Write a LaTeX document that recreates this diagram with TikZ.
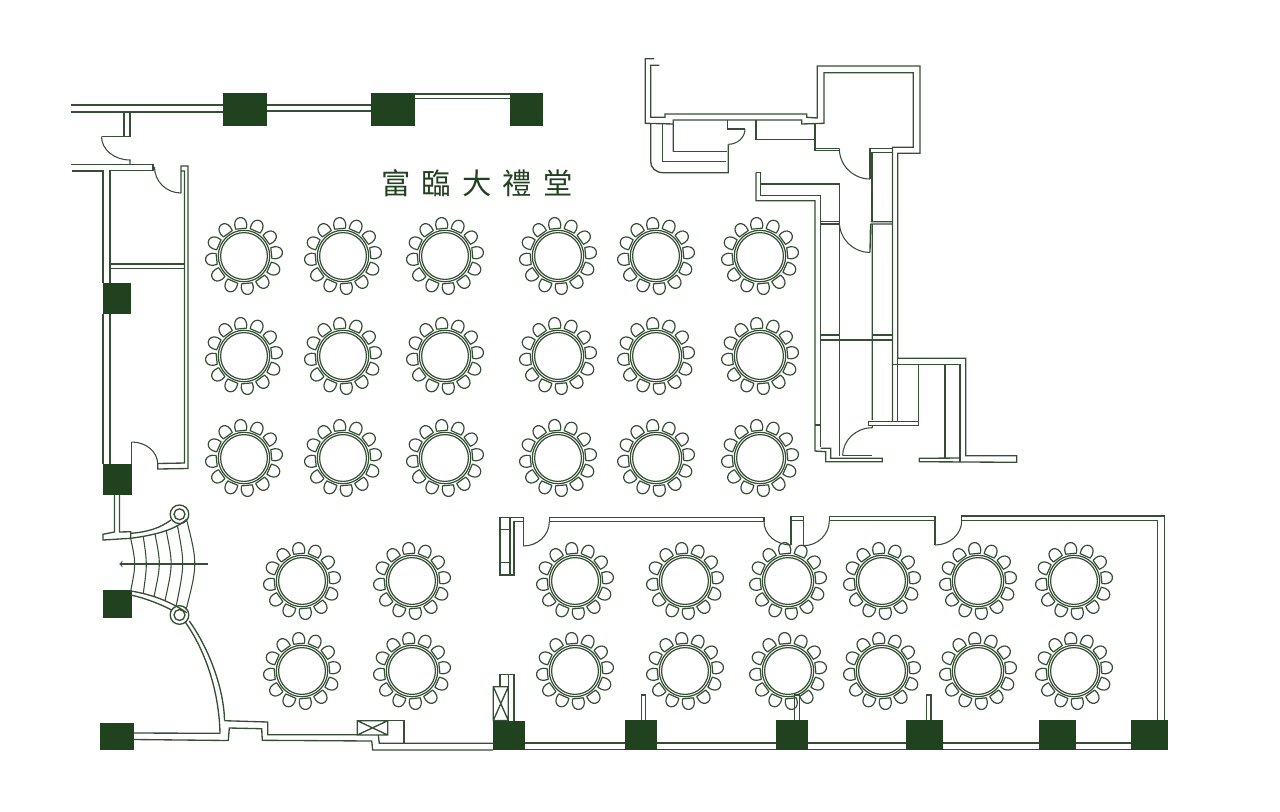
\documentclass[tikz,border=0pt]{standalone}
\usepackage{fontspec}
\newfontfamily\cjk[LetterSpace=38]{Noto Sans CJK TC}
\definecolor{plangreen}{HTML}{21421F}
\definecolor{wallgreen}{HTML}{344F34}
\tikzset{
	wall/.style={wallgreen, line width=1pt, line join=miter},
	thinwall/.style={wallgreen, line width=0.8pt},
	pillar/.style={fill=plangreen, draw=none},
	seat/.style={wallgreen, line width=0.9pt, line join=round},
	hallname/.style={text=plangreen, font=\cjk\fontsize{22}{24}\selectfont, inner sep=0},
	pics/roundtable/.style={code={
		\draw[seat] (0,0) circle[radius=25.7];
		\draw[seat] (0,0) circle[radius=23.4];
		\foreach \a in {6,36,...,336}{
			\draw[seat, rotate=\a] (27.5,-5.5) -- (27.5,5.5) -- (31.5,6) .. controls (41,6) and (41,-6) .. (31.5,-6) -- cycle;
		}
	}},
}
\begin{document}
\begin{tikzpicture}[x=0.75pt, y=-0.75pt]
	\useasboundingbox (0,0) rectangle (1280,811);

	\foreach \y in {256,356,458}{
		\foreach \x in {244,343,445,558,656,760}{
			\pic at (\x,\y) {roundtable};
		}
	}
	\foreach \y in {581,671}{
		\foreach \x in {302,412,575,685,788,882,978,1074}{
			\pic at (\x,\y) {roundtable};
		}
	}

	\foreach \xa/\ya/\xb/\yb in {223/93/267/126, 371/93/415/126, 510/93/543/126, 103/283/131/314, 103/464/132/495, 103/590/131.5/618, 100/723/134/750, 493/720.5/525/750, 624.5/720/656.5/750, 776/719.5/808/749.5, 905.5/719.5/942.5/749.5, 1038.5/719.5/1075.5/749.5, 1130.5/719.5/1167.5/749.5}{
		\fill[pillar] (\xa,\ya) rectangle (\xb,\yb);
	}

	\node[hallname] (hallname) at (477,183) {富臨大禮堂};

	% top and left rooms
	\draw[wall] (71,105) -- (223,105) (71,112) -- (223,112);
	\draw[wall] (267,105) -- (371,105) (267,111) -- (371,111);
	\draw[wall] (415,94) -- (510,94) (415,98.5) -- (510,98.5);
	\draw[wall] (124,112) -- (124,136.5) (130,112) -- (130,136.5) -- (101.5,136.5);
	\draw[thinwall] (101.5,136.5) arc[x radius=28.5, y radius=23.5, start angle=180, end angle=90] -- (130,165);
	\draw[wall] (71,164.5) -- (153,164.5) -- (153,170.5) -- (110,170.5) -- (110,283);
	\draw[wall] (72,171) -- (103,171) -- (103,283);
	\draw[thinwall] (154.5,167) arc[x radius=26.5, y radius=26, start angle=180, end angle=90];
	\draw[wall] (181,193) -- (181,166) -- (188,166) -- (188,468.5) -- (157.7,469) -- (157.7,464);
	\draw[wall] (181,171) -- (184.5,171) -- (184.5,463) -- (158,463.5);
	\draw[wall] (110,264) -- (184.5,264) (110,268.8) -- (184.5,268.8);
	\draw[wall] (103,314) -- (103,464) (110,314) -- (110,464);
	\draw[wall] (131.7,464) -- (131.7,442);
	\draw[thinwall] (131.7,442) arc[x radius=26, y radius=22, start angle=-90, end angle=0];

	% stairs
	\draw[wall] (114.5,495) -- (114.5,532) -- (103,534.3) -- (103,540) -- (130.7,538.3) -- (130.7,531.7) -- (119.5,532) -- (119.5,495);
	\foreach \xa/\ya/\xc/\xb/\yb in {130.7/538.3/136/130.7/591, 143.3/536.7/147.3/143.3/593.3, 155/534/160.9/154/596.7, 166/530/173/165/600.7, 177.3/525/184.7/176/606.7, 186.7/520/197.6/186/610}{
		\draw[thinwall] (\xa,\ya) .. controls (\xc,564) .. (\xb,\yb);
	}
	\coordinate (stairtail) at (208.3,564);
	\coordinate (stairhead) at (119.3,564);
	\draw[thinwall, -to] (stairtail) -- (stairhead);
	\draw[wall] (130.7,533.3) .. controls (148,532) and (160,528) .. (171,520);
	\draw[wall] (130.7,538.3) .. controls (155,535) and (175,530) .. (187,519);
	\draw[wall] (130.7,591) .. controls (150,594) and (170,601) .. (186.7,612.7);
	\draw[wall] (130.7,595) .. controls (145,598) and (160,604) .. (171.7,610);
	\foreach \y in {514.3,615}{
		\draw[wall] (179.5,\y) circle[radius=9.3];
		\draw[wall] (179.5,\y) circle[radius=5.5];
	}
	\draw[wall] (185,621.7) .. controls (205,650) and (219,690) .. (220,733.3);
	\draw[wall] (189.3,621) .. controls (210,650) and (224,690) .. (224.5,720.7);

	% bottom wall
	\draw[wall] (134,733) -- (220,733.3) (224.5,720.7) -- (267.7,722) -- (267.7,734.7) -- (357.3,734.7);
	\draw[wall] (134,739.5) -- (228.3,740.5) -- (229.3,728) -- (261.7,728.7) -- (262.3,740.3) -- (371.7,741) -- (372.7,750) -- (493,750);
	\draw[wall] (357.3,720.7) rectangle (387.7,735) (357.3,720.7) -- (387.7,735) (357.3,735) -- (387.7,720.7);
	\draw[wall] (387.7,720.7) -- (404,720.7) -- (404,743.3);
	\draw[wall] (378.3,735) -- (379.3,743.3) -- (493,743.3);
	\draw[wall] (493.3,720.5) rectangle (508.3,686.7) (493.3,720.5) -- (508.3,686.7) (493.3,686.7) -- (508.3,720.5);
	\draw[wall] (500,686.7) -- (500,674.3) -- (514,674.3) -- (514,720.5) (508.3,674.3) -- (508.3,686.7);
	\foreach \xa/\xb in {641.7/645.7, 794.5/799.3, 926.7/931}{
		\draw[wall] (\xa,720) -- (\xa,695) -- (\xb,695) -- (\xb,720);
	}
	\foreach \xa/\xb in {525/624.5, 656.5/776, 808/905.5, 942.5/1038.5, 1075.5/1130.5}{
		\draw[wall] (\xa,743) -- (\xb,743) (\xa,749.5) -- (\xb,749.5);
	}

	% lower hall north wall
	\draw[wall] (500,517.3) rectangle (510,529.3) (500,562.7) rectangle (510,575);
	\draw[wall] (500,529.3) -- (500,562.7) (510,529.3) -- (510,562.7);
	\draw[wall] (510,517.3) -- (523.3,517.3) -- (523.3,546) (510.5,575) -- (514,575) -- (514,521.7) -- (523.3,521.7);
	\draw[thinwall] (523.3,546) arc[x radius=26, y radius=24.3, start angle=90, end angle=0];
	\draw[wall] (549.3,521.7) -- (549.3,517.3) -- (764,517.3) -- (764,521.7) -- cycle;
	\draw[thinwall] (764,521.7) arc[x radius=27, y radius=23.3, start angle=180, end angle=90];
	\draw[wall] (791,545) -- (791,516.7) -- (803.3,516.7) -- (803.3,545.7) (791,520.7) -- (803.3,520.7);
	\draw[thinwall] (803.3,545.7) arc[x radius=26, y radius=25, start angle=90, end angle=0];
	\draw[wall] (829.3,520.7) -- (829.3,516.7) -- (935,516.7) -- (935,545) (829.3,520.7) -- (935,520.7);
	\draw[thinwall] (935,545) arc[x radius=26.7, y radius=24.3, start angle=90, end angle=0];
	\draw[wall] (961.7,520.7) -- (961.7,516) -- (1164.3,516) -- (1164.3,719.5);
	\draw[wall] (961.7,520.7) -- (1157.3,520.7) -- (1157.3,719.5);

	% upper right rooms
	\draw[wall] (654,58.7) -- (645.3,58.7) -- (645.3,123.3) -- (673.3,124);
	\draw[wall] (659.3,65.3) -- (650.7,65.3) -- (650.7,117.3) -- (665,117.3) -- (665,114) -- (806.7,114) -- (806.7,117.3) -- (817.3,118) -- (817.3,66) -- (920,66) -- (920,153.3) -- (897.7,153.3) -- (897.7,358.3) -- (965.7,358.3) -- (965.7,455.7) -- (1016.7,455.7) -- (1016.7,462.3) -- (919.3,461.7) -- (919.3,458.3) -- (960,458);
	\draw[wall] (673.3,151.7) -- (673.3,120) -- (801.7,120) -- (801.7,124) -- (824,123.3) -- (824,72.7) -- (913.3,72.7) -- (913.3,147.3) -- (892.5,147.3) -- (892.5,421);
	\draw[wall] (650.7,123.3) -- (650.7,161.7) .. controls (650.7,168) and (656,172.7) .. (663.3,172.7) -- (728.3,172.7) -- (728.3,144.3);
	\draw[thinwall] (745,129) arc[x radius=16.7, y radius=15.3, start angle=0, end angle=90];
	\draw[wall] (727.3,120) -- (727.3,129) -- (745,129);
	\draw[wall] (662.3,124) -- (662.3,161.7) -- (725.7,161.7);
	\draw[wall] (673.3,151.7) -- (726.7,151.7);
	\draw[wall] (756,120) -- (756,139.3) -- (815,139.3);
	\draw[wall] (815,124) -- (815,150.7) -- (839.3,150.7) (815,148.3) -- (839.3,148.3);
	\draw[thinwall] (839.3,148.3) arc[x radius=30.7, y radius=30.7, start angle=180, end angle=90];
	\draw[wall] (870,179) -- (870,148.3) -- (892.5,148.3) (872,152.3) -- (892.5,152.3) (872,152.3) -- (872,221.7);

	% corridor beside the hall
	\draw[wall] (756,172.7) -- (760.5,172.7) -- (760.5,195.7) -- (820.7,195.7) -- (820.7,446.7);
	\draw[wall] (756,172.7) -- (756,200.7) -- (815,200.7) -- (815,451) -- (825.7,451.7) -- (825.7,461.7) -- (882.3,461.7) -- (882.3,458.3) -- (830.7,458.3) -- (830.7,448.3) -- (820.7,448.3);
	\draw[wall] (760.5,184) -- (839.3,184) -- (839.3,455.7);
	\draw[wall] (815,425) -- (820.7,425);
	\draw[wall] (820.7,221.7) -- (839.3,221.7) (820.7,224) -- (839.3,224);
	\draw[thinwall] (839.3,221.7) arc[x radius=30.7, y radius=30.7, start angle=180, end angle=90];
	\draw[wall] (870.5,224) -- (870,252.3) (870.5,221.7) -- (892.5,221.7) (870.5,224) -- (892.5,224) (872.3,224) -- (872.3,420);
	\draw[wall] (820.7,335) -- (839.3,335) (872.7,335) -- (892.5,335) (820.7,340) -- (892.5,340);
	\draw[thinwall] (842.7,455.7) arc[x radius=29.6, y radius=28, start angle=180, end angle=270] -- (872.3,425.7);
	\draw[wall] (842.7,455.7) -- (871.7,455.7);
	\draw[wall] (868.3,425.7) -- (868.3,421.7) -- (918.3,421.7) -- (918.3,425.7) -- cycle;
	\draw[wall] (892.5,364.3) -- (960,364.3) -- (960,462.3) (897.7,358.3) -- (897.7,421) (918.3,364.3) -- (918.3,421.7) (945,364.3) -- (945,458);
\end{tikzpicture}
\end{document}
